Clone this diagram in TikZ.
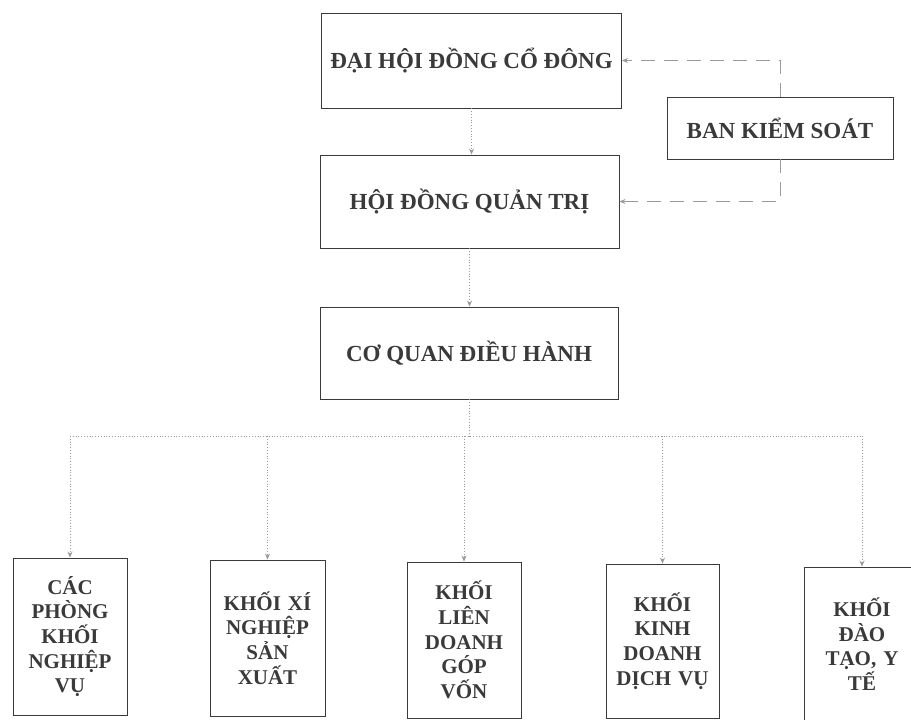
\documentclass[tikz,border=0pt]{standalone}
\usepackage{fontspec}
\setmainfont{Liberation Serif}
\usetikzlibrary{arrows.meta}
\definecolor{inkc}{HTML}{3A3A3A}
\definecolor{linec}{HTML}{9A9A9A}
\begin{document}
\begin{tikzpicture}[x=1pt,y=-1pt,
  topbox/.style={draw=inkc, line width=0.9pt, rectangle, inner sep=0pt, text=inkc,
    font=\fontsize{23}{27}\selectfont\bfseries},
  lowbox/.style={draw=inkc, line width=0.9pt, rectangle, inner sep=0pt, text=inkc,
    align=center, text width=104pt,
    font=\fontsize{21}{24.7}\selectfont\bfseries},
  treeline/.style={draw=linec, line width=0.8pt, dotted},
  ctrlline/.style={draw=linec, line width=0.8pt, dash pattern=on 14pt off 9pt},
  tip/.style={-{Stealth[length=6pt,width=5pt]}}
]
\useasboundingbox (0,0) rectangle (911,720);
\fill[white] (0,0) rectangle (911,720);

\node[topbox, minimum width=300pt, minimum height=95pt] (dh) at (471.5,60.5) {ĐẠI HỘI ĐỒNG CỔ ĐÔNG};
\node[topbox, minimum width=299pt, minimum height=93pt] (hd) at (469.5,201.5) {HỘI ĐỒNG QUẢN TRỊ};
\node[topbox, minimum width=298pt, minimum height=92pt] (cq) at (469,353) {CƠ QUAN ĐIỀU HÀNH};
\node[topbox, minimum width=226pt, minimum height=62pt] (bks) at (780,128) {BAN KIỂM SOÁT};

\node[lowbox, minimum width=114pt, minimum height=157pt] (a) at (70,636.5) {CÁC\\PHÒNG\\KHỐI\\NGHIỆP\\VỤ};
\node[lowbox, minimum width=115pt, minimum height=156pt] (b) at (267.5,638) {KHỐI XÍ\\NGHIỆP\\SẢN\\XUẤT};
\node[lowbox, minimum width=114pt, minimum height=156pt] (c) at (464,640) {KHỐI\\LIÊN\\DOANH\\GÓP\\VỐN};
\node[lowbox, minimum width=113pt, minimum height=154pt] (d) at (662.5,641) {KHỐI\\KINH\\DOANH\\DỊCH VỤ};
\node[lowbox, minimum width=116pt, minimum height=154pt] (e) at (862,644) {KHỐI\\ĐÀO\\TẠO, Y\\TẾ};

% vertical chain
\draw[treeline, tip] (dh.south) -- (dh.south |- hd.north);
\draw[treeline, tip] (hd.south) -- (hd.south |- cq.north);

% distribution bus
\coordinate (busL) at (70,436);
\coordinate (busR) at (862,436);
\draw[treeline] (cq.south) -- (cq.south |- busL);
\draw[treeline] (busL) -- (busR);
\draw[treeline, tip] (busL) -- (a.north);
\draw[treeline, tip] (b.north |- busL) -- (b.north);
\draw[treeline, tip] (c.north |- busL) -- (c.north);
\draw[treeline, tip] (d.north |- busL) -- (d.north);
\draw[treeline, tip] (busR) -- (e.north);

% supervisory board links
\draw[ctrlline, tip] (bks.north) |- (dh.east);
\draw[ctrlline, tip] (bks.south) |- (hd.east);
\end{tikzpicture}
\end{document}
